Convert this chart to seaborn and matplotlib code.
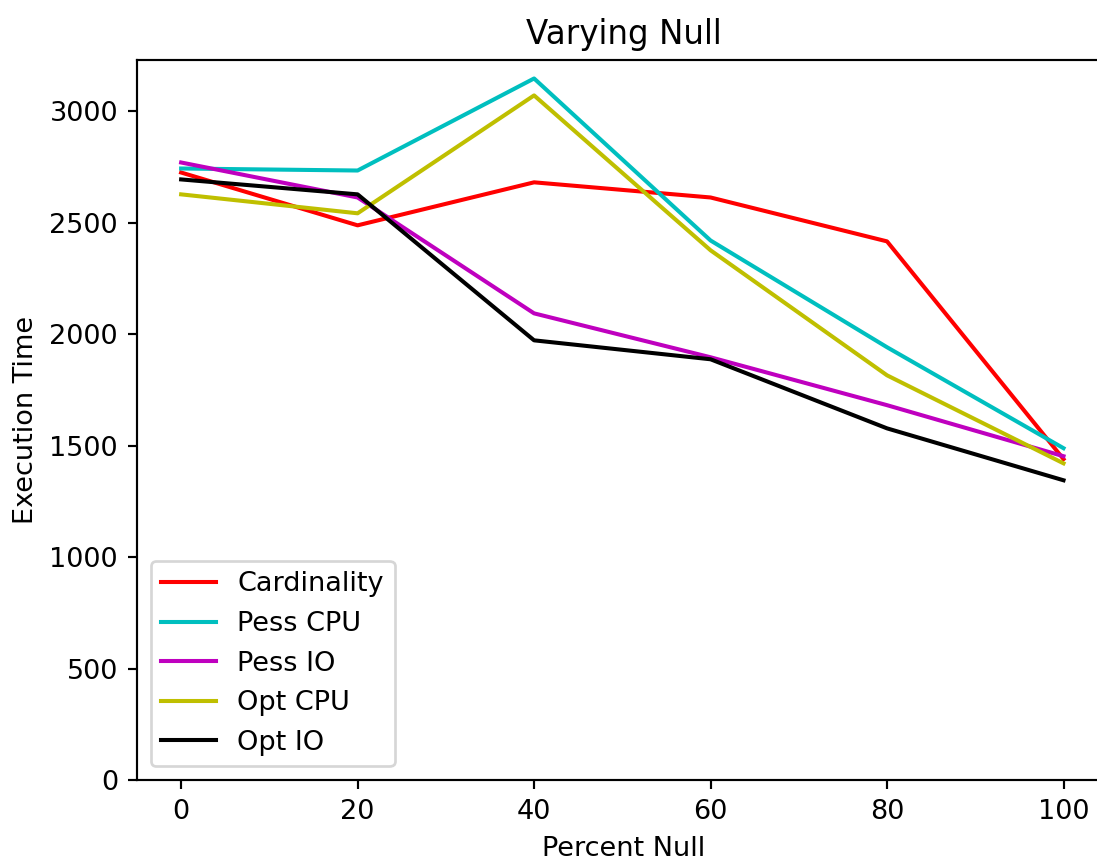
import matplotlib
matplotlib.use("Agg")
import matplotlib.pyplot as plt
import seaborn as sns
import pandas as pd

# Percent of null values in the input
percent_null = [0, 20, 40, 60, 80, 100]

# Execution time for each cost model
cardinality = [2726, 2489, 2682, 2614, 2417, 1440]
pess_cpu = [2744, 2735, 3148, 2421, 1942, 1489]
pess_io = [2771, 2614, 2094, 1897, 1682, 1453]
opt_cpu = [2628, 2543, 3072, 2377, 1816, 1421]
opt_io = [2695, 2628, 1973, 1888, 1578, 1345]

series_names = ["Cardinality", "Pess CPU", "Pess IO", "Opt CPU", "Opt IO"]
series_values = [cardinality, pess_cpu, pess_io, opt_cpu, opt_io]
series_colors = [(1, 0, 0), (0, 0.75, 0.75), (0.75, 0, 0.75), (0.75, 0.75, 0), (0, 0, 0)]

rows = []
for name, vals in zip(series_names, series_values):
    for x, v in zip(percent_null, vals):
        rows.append({"Percent Null": x, "Execution Time": v, "Model": name})
df = pd.DataFrame(rows)

DPI = 195
fig = plt.figure(figsize=(1097 / DPI, 860 / DPI), dpi=DPI)
ax = fig.add_axes([0.1249, 0.093, 0.888, 0.837])

sns.lineplot(
    data=df, x="Percent Null", y="Execution Time", hue="Model",
    hue_order=series_names, palette=dict(zip(series_names, series_colors)),
    linewidth=1.5, ax=ax,
)

ax.set_xlim(-5, 105.4)
ax.set_ylim(0, 3230)
ax.set_xticks(percent_null)
ax.set_yticks([0, 500, 1000, 1500, 2000, 2500, 3000])
ax.set_title("Varying Null", fontsize=12)
ax.set_xlabel("Percent Null", fontsize=10)
ax.set_ylabel("Execution Time", fontsize=10)
ax.legend(loc="lower left", title=None, fontsize=10)

fig.savefig("out.png", dpi=DPI)
